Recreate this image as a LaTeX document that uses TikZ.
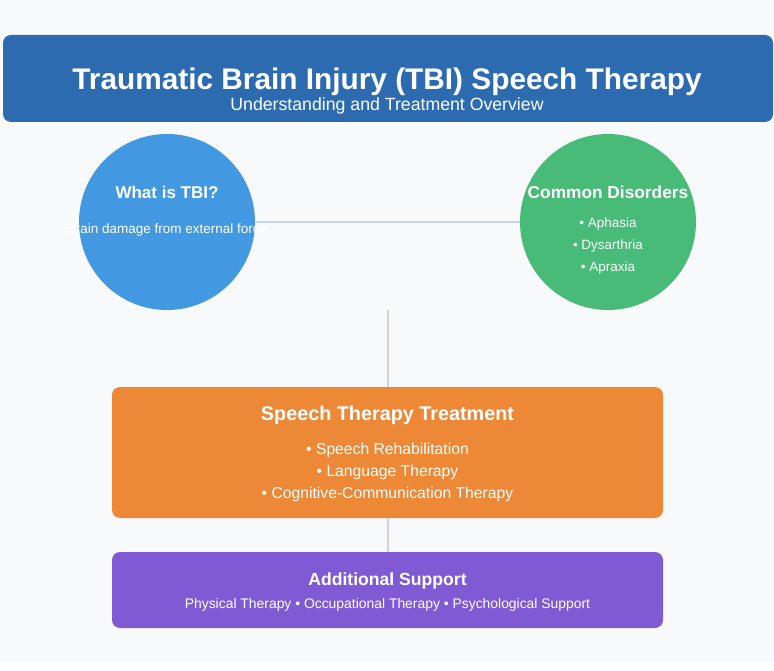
\documentclass[tikz,border=0pt]{standalone}
\usepackage{fontspec}
\setmainfont{Liberation Sans}
\definecolor{bgc}{HTML}{F7F9FB}
\definecolor{headc}{HTML}{2D6BB0}
\definecolor{bluec}{HTML}{4299E1}
\definecolor{greenc}{HTML}{48BB78}
\definecolor{orangec}{HTML}{ED8936}
\definecolor{purplec}{HTML}{805AD5}
\definecolor{linec}{HTML}{CBD5E0}
\tikzset{
  conn/.style={draw=linec, line width=1.6pt},
  circ/.style={circle, minimum size=176pt, inner sep=0pt},
  boxr/.style={rounded corners=8pt},
  txt/.style={text=white, inner sep=0pt, anchor=base},
}
\begin{document}
\begin{tikzpicture}[x=1pt,y=-1pt]
\useasboundingbox (0,0) rectangle (774,671);
\fill[white] (0,0) rectangle (774,671);
\fill[bgc] (0,0) rectangle (774,662);
% header
\fill[headc, boxr] (3,35) rectangle (773,122);
\node[txt, font=\fontsize{29.8}{32}\bfseries\selectfont] (title) at (387,90) {Traumatic Brain Injury (TBI) Speech Therapy};
\node[txt, font=\fontsize{17.7}{20}\selectfont] (sub) at (387,111) {Understanding and Treatment Overview};
% circles
\node[circ, fill=bluec] (tbi) at (167,222) {};
\node[circ, fill=greenc] (dis) at (608,222) {};
\draw[conn] (tbi.east) -- (dis.west);
\node[txt, font=\fontsize{17}{19}\bfseries\selectfont] (tbit) at (167,199) {What is TBI?};
\node[txt, font=\fontsize{13.5}{15}\selectfont] (tbid) at (167,234) {Brain damage from external force};
\node[txt, font=\fontsize{17.3}{19}\bfseries\selectfont] (dist) at (608,199) {Common Disorders};
\node[txt, font=\fontsize{13.5}{15}\selectfont] (d1) at (608,228) {• Aphasia};
\node[txt, font=\fontsize{13.5}{15}\selectfont] (d2) at (608,250) {• Dysarthria};
\node[txt, font=\fontsize{13.5}{15}\selectfont] (d3) at (608,272) {• Apraxia};
% treatment
\node[boxr, fill=orangec, minimum width=551pt, minimum height=131pt, inner sep=0pt] (treat) at (387.5,452.5) {};
\node[txt, font=\fontsize{19.8}{22}\bfseries\selectfont] (treatt) at (387.5,420) {Speech Therapy Treatment};
\node[txt, font=\fontsize{15.7}{18}\selectfont] (t1) at (387.5,454) {• Speech Rehabilitation};
\node[txt, font=\fontsize{15.7}{18}\selectfont] (t2) at (387.5,476) {• Language Therapy};
\node[txt, font=\fontsize{15.7}{18}\selectfont] (t3) at (387.5,498) {• Cognitive-Communication Therapy};
% support
\node[boxr, fill=purplec, minimum width=551pt, minimum height=76pt, inner sep=0pt] (supp) at (387.5,590) {};
\node[txt, font=\fontsize{17.6}{20}\bfseries\selectfont] (suppt) at (387.5,585) {Additional Support};
\node[txt, font=\fontsize{13.9}{16}\selectfont] (suppd) at (387.5,608) {Physical Therapy • Occupational Therapy • Psychological Support};
% connectors
\coordinate (vtop) at (388,310);
\draw[conn] (vtop) -- (vtop |- treat.north);
\draw[conn] (vtop |- treat.south) -- (vtop |- supp.north);
\end{tikzpicture}
\end{document}
